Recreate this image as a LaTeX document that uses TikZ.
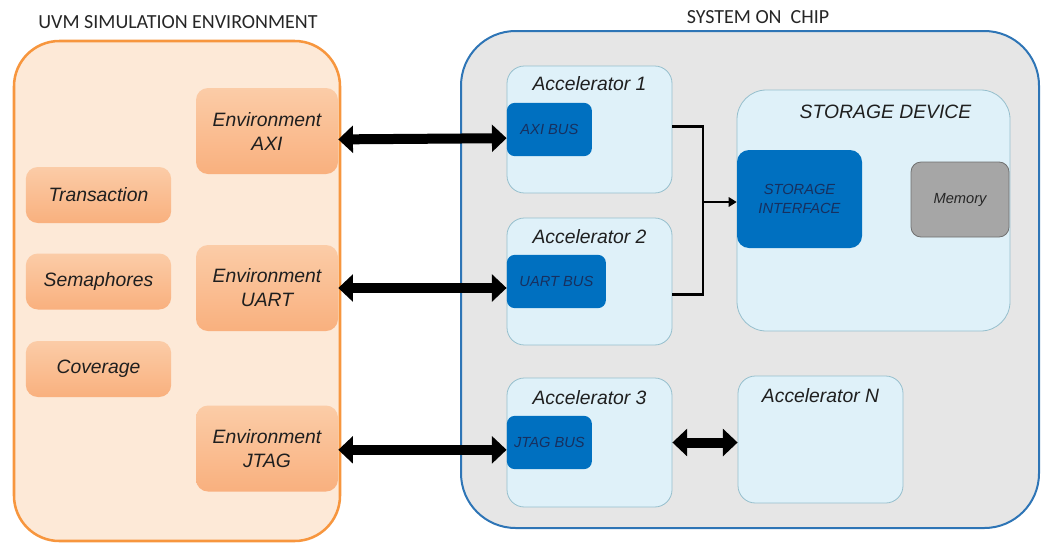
\documentclass[tikz,border=0pt]{standalone}
\usepackage{fontspec}
\setmainfont{Liberation Sans}
\newfontfamily\headfont{Carlito}
\usetikzlibrary{positioning, arrows.meta, calc}
\definecolor{uvmfill}{HTML}{FDE9D7}
\definecolor{uvmline}{HTML}{F7963E}
\definecolor{envtop}{HTML}{FBCCA7}
\definecolor{envbot}{HTML}{F9B07E}
\definecolor{socfill}{HTML}{E6E6E6}
\definecolor{socline}{HTML}{2E75B6}
\definecolor{accfill}{HTML}{DFF1F9}
\definecolor{accline}{HTML}{96BFCD}
\definecolor{busfill}{HTML}{0070C0}
\definecolor{bustext}{HTML}{17305F}
\definecolor{memfill}{HTML}{A6A6A6}
\definecolor{memline}{HTML}{707070}
\tikzset{
  big/.style={font=\itshape\fontsize{14.5}{18}\selectfont, text=black!88},
  small/.style={font=\itshape\fontsize{11}{14}\selectfont},
  heading/.style={font=\headfont\fontsize{15}{18}\selectfont, text=black!85},
  envbox/.style={big, rounded corners=9pt, top color=envtop, bottom color=envbot,
    minimum width=106.5pt, minimum height=64.5pt, align=center, inner sep=0pt},
  toolbox/.style={envbox, minimum width=109pt, minimum height=42pt},
  accbox/.style={draw=accline, line width=0.6pt, fill=accfill, rounded corners=13pt,
    minimum width=123.75pt, minimum height=95.25pt, inner sep=0pt},
  busbox/.style={small, text=bustext, fill=busfill, rounded corners=6pt,
    minimum height=40pt, inner sep=0pt, anchor=west},
  bigarrow/.style={line width=7.5pt,
    {Triangle[length=11pt,width=20pt]}-{Triangle[length=11pt,width=20pt]}},
  link/.style={line width=2.2pt},
}

\begin{document}
\begin{tikzpicture}[x=0.75pt, y=-0.75pt]
  \useasboundingbox (0,0) rectangle (1041,543);

  \node[draw=uvmline, line width=1.9pt, fill=uvmfill, rounded corners=34pt,
        minimum width=244.5pt, minimum height=375pt] (uvm) at (177,291) {};
  \node[heading] (uvmtitle) at (178,22) {UVM SIMULATION ENVIRONMENT};

  \node[envbox] (envaxi)  at (267,131)   {Environment\\AXI};
  \node[envbox] (envuart) at (267,288)   {Environment\\UART};
  \node[envbox] (envjtag) at (267,448.5) {Environment\\JTAG};
  \node[toolbox] (trans) at (98.5,195)   {Transaction};
  \node[toolbox] (sema)  at (98.5,281.5) {Semaphores};
  \node[toolbox] (cov)   at (98.5,369)   {Coverage};

  \node[draw=socline, line width=1.5pt, fill=socfill, rounded corners=41pt,
        minimum width=433.5pt, minimum height=372.75pt] (soc) at (750,279.5) {};
  \node[heading] (soctitle) at (758,17) {SYSTEM ON~ CHIP};

  \node[accbox] (acc1) at (589.5,129.5) {};
  \node[accbox] (acc2) at (589.5,281.5) {};
  \node[accbox, minimum height=96.75pt] (acc3) at (589.5,442.5) {};
  \node[accbox] (accn) at (820.5,439.5) {};
  \node[big] (acc1lbl) at ([yshift=-13.5pt]acc1.north) {Accelerator 1};
  \node[big] (acc2lbl) at ([yshift=-14pt]acc2.north)   {Accelerator 2};
  \node[big] (acc3lbl) at ([yshift=-15pt]acc3.north)   {Accelerator 3};
  \node[big] (accnlbl) at ([yshift=-15pt]accn.north)   {Accelerator N};

  \node[busbox, minimum width=63.75pt] (axibus)  at (acc1.west) {AXI BUS};
  \node[busbox, minimum width=74.25pt] (uartbus) at (acc2.west) {UART BUS};
  \node[busbox, minimum width=63.75pt] (jtagbus) at (acc3.west) {JTAG BUS};

  \node[accbox, rounded corners=22pt, minimum width=204.75pt,
        minimum height=180.75pt] (stor) at (873.5,210.5) {};
  \node[big] (storlbl) at ([xshift=9pt, yshift=-17pt]stor.north) {STORAGE DEVICE};
  \node[busbox, anchor=center, rounded corners=9pt, align=center,
        minimum width=93.75pt, minimum height=73.5pt] (storif) at (799.5,199)
        {STORAGE\\INTERFACE};
  \node[small, draw=memline, line width=0.6pt, fill=memfill, rounded corners=7.5pt,
        minimum width=73.5pt, minimum height=56.25pt, text=black!85] (mem) at (960,199.5) {Memory};

  \coordinate (join) at (703,202);
  \draw[link] ([yshift=2.5pt]acc1.east) -| (join) |- ([yshift=-9.4pt]acc2.east);
  \draw[link, -{Triangle[length=6pt,width=7pt]}] (join) -- (storif.west |- join);

  \draw[bigarrow] ([yshift=-6.3pt]envaxi.east) -- ([yshift=-6.5pt]axibus.west);
  \draw[bigarrow] (envuart.east) -- (uartbus.west |- envuart.east);
  \draw[bigarrow] ([yshift=-1pt]envjtag.east) -- ([yshift=-1pt]jtagbus.west |- envjtag.east);
  \draw[bigarrow] (acc3.east) -- (accn.west |- acc3.east);
\end{tikzpicture}
\end{document}
